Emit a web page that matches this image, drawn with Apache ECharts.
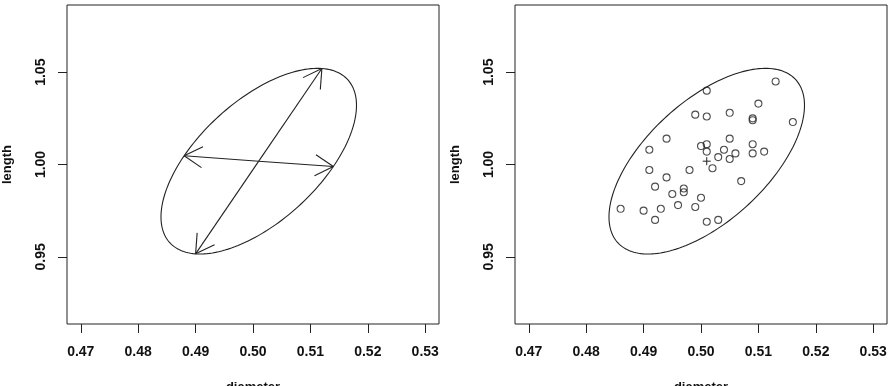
<!DOCTYPE html>
<html>
<head>
<meta charset="utf-8">
<script src="https://cdn.jsdelivr.net/npm/echarts@6/dist/echarts.min.js"></script>
<style>
html,body{margin:0;padding:0;background:#fff;}
#chart{width:895px;height:386px;}
</style>
</head>
<body>
<div id="chart"></div>
<script>
// ---- data ----
const xTicks = [0.47, 0.48, 0.49, 0.50, 0.51, 0.52, 0.53];
const yTicks = [0.95, 1.00, 1.05];
const xRange = [0.4676, 0.5324];
const yRange = [0.9136, 1.0864];

const ellipseCenter = [0.5010, 1.0018];
const majorSemiAxis = [0.0110, 0.0502];
const minorSemiAxis = [-0.0130, 0.0029];

const diameter = [0.486,0.490,0.492,0.493,0.491,0.491,0.492,0.494,0.494,0.495,0.496,0.497,0.497,0.498,0.499,0.499,0.500,0.500,0.501,0.501,0.501,0.501,0.501,0.502,0.503,0.503,0.504,0.505,0.505,0.505,0.506,0.507,0.509,0.509,0.509,0.509,0.510,0.511,0.513,0.516];
const length = [0.976,0.975,0.970,0.976,1.008,0.997,0.988,1.014,0.993,0.984,0.978,0.987,0.985,0.997,0.977,1.027,1.010,0.982,1.040,1.026,1.011,1.007,0.969,0.998,1.004,0.970,1.008,1.028,1.014,1.003,1.006,0.991,1.025,1.024,1.011,1.006,1.033,1.007,1.045,1.023];

// ---- chart ----
const ink = '#222';
const chart = echarts.init(document.getElementById('chart'), null, {renderer: 'canvas'});

function xAxisDef(gi) {
  return {
    type: 'value', gridIndex: gi, min: xRange[0], max: xRange[1],
    axisLine: {show: false},
    splitLine: {show: false},
    axisTick: {show: true, length: 9, customValues: xTicks, lineStyle: {color: ink, width: 1}},
    axisLabel: {customValues: xTicks, margin: 21, color: '#111', fontSize: 14, fontWeight: 'bold',
      fontFamily: 'Liberation Sans, Arial, sans-serif', formatter: v => v.toFixed(2)},
    name: 'diameter', nameLocation: 'middle', nameGap: 57,
    nameTextStyle: {color: '#111', fontSize: 13, fontWeight: 'bold', fontFamily: 'Liberation Sans, Arial, sans-serif'}
  };
}
function yAxisDef(gi) {
  return {
    type: 'value', gridIndex: gi, min: yRange[0], max: yRange[1],
    axisLine: {show: false},
    splitLine: {show: false},
    axisTick: {show: true, length: 9, customValues: yTicks, lineStyle: {color: ink, width: 1}},
    axisLabel: {customValues: yTicks, margin: 19, rotate: 90, color: '#111', fontSize: 14, fontWeight: 'bold',
      fontFamily: 'Liberation Sans, Arial, sans-serif', formatter: v => v.toFixed(2)},
    name: 'length', nameLocation: 'middle', nameGap: 53,
    nameTextStyle: {color: '#111', fontSize: 13, fontWeight: 'bold', fontFamily: 'Liberation Sans, Arial, sans-serif'}
  };
}

function ellipsePoint(t) {
  return [
    ellipseCenter[0] + majorSemiAxis[0] * Math.cos(t) + minorSemiAxis[0] * Math.sin(t),
    ellipseCenter[1] + majorSemiAxis[1] * Math.cos(t) + minorSemiAxis[1] * Math.sin(t)
  ];
}

function renderEllipse(params, api) {
  const pts = [];
  for (let i = 0; i <= 180; i++) {
    pts.push(api.coord(ellipsePoint(i / 180 * 2 * Math.PI)));
  }
  return {type: 'polyline', shape: {points: pts}, style: {stroke: ink, fill: null, lineWidth: 1.1}, silent: true};
}

function renderArrows(params, api) {
  const c = api.coord(ellipseCenter);
  const tips = [
    [ellipseCenter[0] + majorSemiAxis[0], ellipseCenter[1] + majorSemiAxis[1]],
    [ellipseCenter[0] - majorSemiAxis[0], ellipseCenter[1] - majorSemiAxis[1]],
    [ellipseCenter[0] + minorSemiAxis[0], ellipseCenter[1] + minorSemiAxis[1]],
    [ellipseCenter[0] - minorSemiAxis[0], ellipseCenter[1] - minorSemiAxis[1]]
  ];
  const children = [];
  const L = 21, ang = Math.PI / 6;
  tips.forEach(tp => {
    const p = api.coord(tp);
    children.push({type: 'line', shape: {x1: c[0], y1: c[1], x2: p[0], y2: p[1]}, style: {stroke: ink, lineWidth: 1.1}});
    const dx = c[0] - p[0], dy = c[1] - p[1];
    const d = Math.hypot(dx, dy);
    const ux = dx / d, uy = dy / d;
    [ang, -ang].forEach(a => {
      const rx = ux * Math.cos(a) - uy * Math.sin(a);
      const ry = ux * Math.sin(a) + uy * Math.cos(a);
      children.push({type: 'line', shape: {x1: p[0], y1: p[1], x2: p[0] + rx * L, y2: p[1] + ry * L}, style: {stroke: ink, lineWidth: 1.1}});
    });
  });
  return {type: 'group', children: children, silent: true};
}

function renderCross(params, api) {
  const c = api.coord(ellipseCenter);
  const h = 4;
  return {type: 'group', silent: true, children: [
    {type: 'line', shape: {x1: c[0] - h, y1: c[1], x2: c[0] + h, y2: c[1]}, style: {stroke: ink, lineWidth: 1}},
    {type: 'line', shape: {x1: c[0], y1: c[1] - h, x2: c[0], y2: c[1] + h}, style: {stroke: ink, lineWidth: 1}}
  ]};
}

const pts = diameter.map((d, i) => [d, length[i]]);

chart.setOption({
  animation: false,
  backgroundColor: '#fff',
  grid: [
    {left: 67, top: 5, width: 372, height: 319, show: true, borderColor: ink, borderWidth: 1, backgroundColor: 'transparent', containLabel: false, outerBoundsMode: 'none'},
    {left: 515, top: 5, width: 372, height: 319, show: true, borderColor: ink, borderWidth: 1, backgroundColor: 'transparent', containLabel: false, outerBoundsMode: 'none'}
  ],
  xAxis: [xAxisDef(0), xAxisDef(1)],
  yAxis: [yAxisDef(0), yAxisDef(1)],
  series: [
    {type: 'custom', xAxisIndex: 0, yAxisIndex: 0, data: [ellipseCenter], renderItem: renderEllipse, clip: false},
    {type: 'custom', xAxisIndex: 0, yAxisIndex: 0, data: [ellipseCenter], renderItem: renderArrows, clip: false},
    {type: 'custom', xAxisIndex: 1, yAxisIndex: 1, data: [ellipseCenter], renderItem: renderEllipse, clip: false},
    {type: 'custom', xAxisIndex: 1, yAxisIndex: 1, data: [ellipseCenter], renderItem: renderCross, clip: false},
    {type: 'scatter', xAxisIndex: 1, yAxisIndex: 1, data: pts, symbol: 'circle', symbolSize: 7,
      itemStyle: {color: 'rgba(0,0,0,0)', borderColor: ink, borderWidth: 1.1}, silent: true}
  ]
});
</script>
</body>
</html>
